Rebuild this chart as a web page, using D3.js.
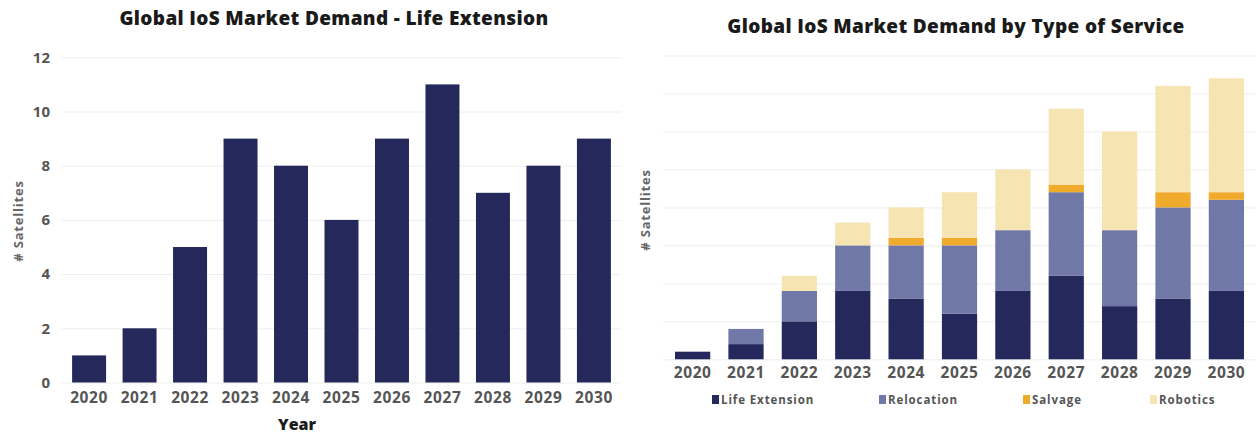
<!DOCTYPE html>
<html>
<head>
<meta charset="utf-8">
<script src="https://cdn.jsdelivr.net/npm/d3@7"></script>
<style>
  html, body { margin: 0; padding: 0; background: #ffffff; }
  svg { display: block; }
  text { font-family: "Open Sans", "DejaVu Sans", sans-serif; }
</style>
</head>
<body>
<svg id="chart" width="1256" height="437"></svg>
<script>
// Years shared by both panels
const years = ["2020", "2021", "2022", "2023", "2024", "2025", "2026", "2027", "2028", "2029", "2030"];

// Satellites per service type
const lifeExtension = [1, 2, 5, 9, 8, 6, 9, 11, 7, 8, 9];
const relocation    = [0, 2, 4, 6, 7, 9, 8, 11, 10, 12, 12];
const salvage       = [0, 0, 0, 0, 1, 1, 0, 1, 0, 2, 1];
const robotics      = [0, 0, 2, 3, 4, 6, 8, 10, 13, 14, 15];

const serviceNames  = ["Life Extension", "Relocation", "Salvage", "Robotics"];
const serviceColors = ["#24285a", "#7078a8", "#f0aa2c", "#f6e4b2"];

const leftTicks  = [0, 2, 4, 6, 8, 10, 12];
const rightGrid  = [0, 5, 10, 15, 20, 25, 30, 35, 40];

const svg = d3.select("#chart");
const tickColor = "#555555";
const gridColor = "#eeeeee";

// ---------- Left panel: Life Extension ----------
const L = { x0: 62, x1: 621, y0: 382.5, y1: 57.3 };
const xL = d3.scaleBand().domain(years).range([L.x0, L.x1]).paddingInner(0.327).paddingOuter(0.2);
const yL = d3.scaleLinear().domain([0, 12]).range([L.y0, L.y1]);

const left = svg.append("g");

left.append("text")
  .attr("x", 334).attr("y", 25)
  .attr("text-anchor", "middle")
  .attr("font-size", 19).attr("font-weight", 800).attr("fill", "#1a1a1a")
  .attr("letter-spacing", 0.35)
  .text("Global IoS Market Demand - Life Extension");

const yAxisL = d3.axisLeft(yL).tickValues(leftTicks).tickSize(-(L.x1 - L.x0)).tickPadding(12);
const gyL = left.append("g").attr("transform", `translate(${L.x0},0)`).call(yAxisL);
gyL.select(".domain").remove();
gyL.selectAll(".tick line").attr("stroke", gridColor).attr("stroke-width", 1);
gyL.selectAll(".tick text")
  .attr("font-size", 15).attr("font-weight", 700).attr("fill", tickColor)
  .attr("font-family", "'Open Sans', sans-serif");

left.selectAll("rect.bar")
  .data(years.map((y, i) => ({ year: y, v: lifeExtension[i] })))
  .join("rect")
  .attr("class", "bar")
  .attr("x", d => xL(d.year))
  .attr("width", xL.bandwidth())
  .attr("y", d => yL(d.v))
  .attr("height", d => yL(0) - yL(d.v))
  .attr("fill", serviceColors[0]);

const xAxisL = d3.axisBottom(xL).tickSize(0).tickPadding(9);
const gxL = left.append("g").attr("transform", `translate(0,${L.y0})`).call(xAxisL);
gxL.select(".domain").remove();
gxL.selectAll(".tick text")
  .attr("font-size", 15.5).attr("font-weight", 700).attr("fill", tickColor)
  .attr("letter-spacing", 0.6)
  .attr("font-family", "'Open Sans', sans-serif");

left.append("text")
  .attr("x", 297).attr("y", 430)
  .attr("text-anchor", "middle")
  .attr("font-size", 16).attr("font-weight", 800).attr("fill", "#1a1a1a")
  .text("Year");

left.append("text")
  .attr("transform", "translate(23,221) rotate(-90)")
  .attr("text-anchor", "middle")
  .attr("font-size", 13).attr("font-weight", 700).attr("fill", "#666666")
  .attr("letter-spacing", 0.8)
  .text("# Satellites");

// ---------- Right panel: stacked by service ----------
const R = { x0: 663, x1: 1256, y0: 359.3, y1: 55.5 };
const xR = d3.scaleBand().domain(years).range([R.x0, R.x1]).paddingInner(0.34).paddingOuter(0.225);
const yR = d3.scaleLinear().domain([0, 40]).range([R.y0, R.y1]);

const right = svg.append("g");

right.append("text")
  .attr("x", 956).attr("y", 33)
  .attr("text-anchor", "middle")
  .attr("font-size", 19).attr("font-weight", 800).attr("fill", "#1a1a1a")
  .attr("letter-spacing", 0.35)
  .text("Global IoS Market Demand by Type of Service");

const yAxisR = d3.axisLeft(yR).tickValues(rightGrid).tickSize(-(R.x1 - R.x0)).tickFormat("");
const gyR = right.append("g").attr("transform", `translate(${R.x0},0)`).call(yAxisR);
gyR.select(".domain").remove();
gyR.selectAll(".tick line").attr("stroke", gridColor).attr("stroke-width", 1);

const table = years.map((y, i) => ({
  year: y,
  "Life Extension": lifeExtension[i],
  "Relocation": relocation[i],
  "Salvage": salvage[i],
  "Robotics": robotics[i]
}));
const stacked = d3.stack().keys(serviceNames)(table);

right.selectAll("g.layer")
  .data(stacked)
  .join("g")
  .attr("class", "layer")
  .attr("fill", (d, i) => serviceColors[i])
  .selectAll("rect")
  .data(d => d.filter(s => s[1] > s[0]))
  .join("rect")
  .attr("x", d => xR(d.data.year))
  .attr("width", xR.bandwidth())
  .attr("y", d => yR(d[1]))
  .attr("height", d => yR(d[0]) - yR(d[1]));

const xAxisR = d3.axisBottom(xR).tickSize(0).tickPadding(8);
const gxR = right.append("g").attr("transform", `translate(0,${R.y0})`).call(xAxisR);
gxR.select(".domain").remove();
gxR.selectAll(".tick text")
  .attr("font-size", 15.5).attr("font-weight", 700).attr("fill", tickColor)
  .attr("letter-spacing", 0.6)
  .attr("font-family", "'Open Sans', sans-serif");

right.append("text")
  .attr("transform", "translate(650,210) rotate(-90)")
  .attr("text-anchor", "middle")
  .attr("font-size", 13).attr("font-weight", 700).attr("fill", "#666666")
  .attr("letter-spacing", 0.8)
  .text("# Satellites");

// Legend
const legendX = [712, 879, 1023, 1150];
const legend = right.selectAll("g.legend")
  .data(serviceNames)
  .join("g")
  .attr("class", "legend")
  .attr("transform", (d, i) => `translate(${legendX[i]},400)`);
legend.append("rect")
  .attr("x", 0).attr("y", -5).attr("width", 7).attr("height", 9)
  .attr("fill", (d, i) => serviceColors[i]);
legend.append("text")
  .attr("x", 9).attr("y", 4)
  .attr("font-size", 11.5).attr("font-weight", 700).attr("fill", tickColor)
  .attr("letter-spacing", 0.9)
  .text(d => d);
</script>
</body>
</html>
